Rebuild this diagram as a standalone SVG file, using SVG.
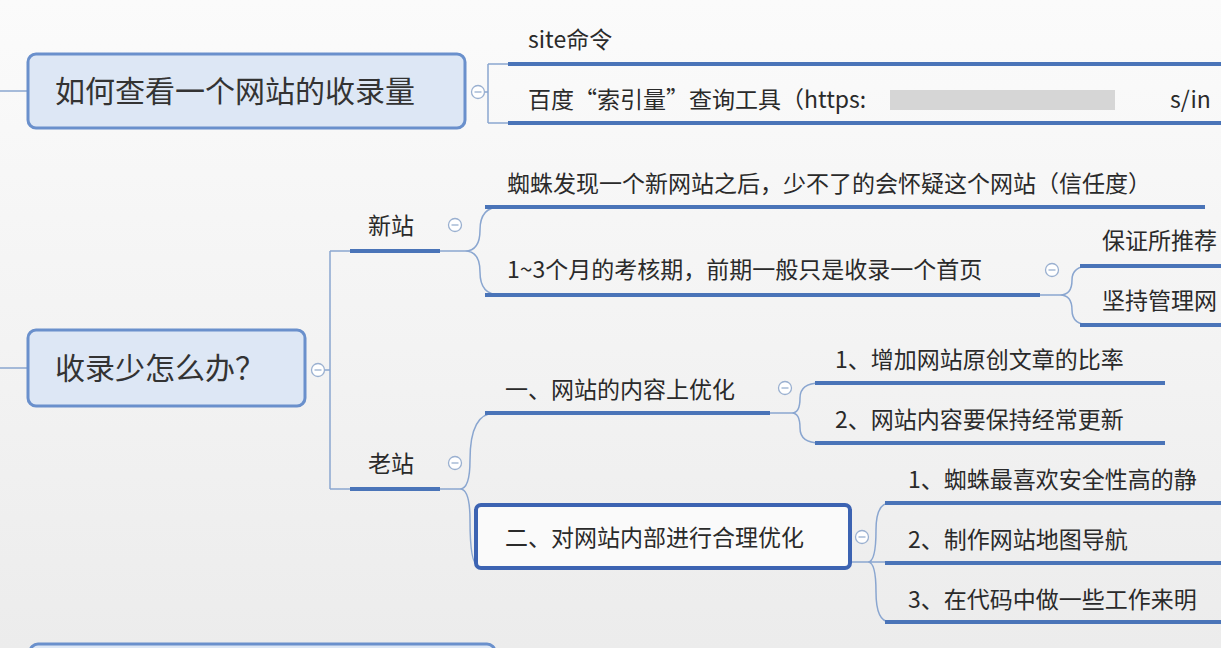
<svg xmlns="http://www.w3.org/2000/svg" width="1221" height="648" viewBox="0 0 1221 648">
<style>
text{font-family:"Noto Sans CJK SC","Liberation Sans",sans-serif;fill:#2a2a2a;font-size:23px}
.root{font-size:30px;fill:#333}
.ul{stroke:#4a74b8;stroke-width:4;fill:none}
.ln{stroke:#8aa6d0;stroke-width:1.5;fill:none}
.rb{fill:#dde7f5;stroke:#6a90cc;stroke-width:3}
.cc{fill:#fff;stroke:#9ab0d0;stroke-width:1.3}
.cm{stroke:#9ab0d0;stroke-width:1.3}
</style>
<defs>
<linearGradient id="bg" x1="0" y1="0" x2="0" y2="1"><stop offset="0" stop-color="#fbfbfb"/><stop offset="1" stop-color="#ececec"/></linearGradient>
<g id="col"><circle class="cc" r="6.5"/><line class="cm" x1="-3.5" y1="0" x2="3.5" y2="0"/></g>
</defs>
<rect width="1221" height="648" fill="url(#bg)"/>
<g id="connectors">
<path class="ln" d="M0 91H28M0 368H28"/>
<path class="ln" d="M485 92H488M488 64V123M488 64H508M488 123H508"/>
<path class="ln" d="M324 370H330M330 251V489M330 251H350M330 489H350"/>
<path class="ln" d="M440 251H465Q480 251 480 230Q480 207 500 207M465 251Q480 251 480 272Q480 295 500 295"/>
<path class="ln" d="M1040 295H1060Q1072 295 1072 280Q1072 266 1090 266M1060 295Q1072 295 1072 310Q1072 325 1090 325"/>
<path class="ln" d="M440 489H460Q470 489 470 460Q470 413 495 413M460 489Q470 489 470 520Q470 565 478 565"/>
<path class="ln" d="M770 413H792Q800 413 800 398Q800 383 820 383M792 413Q800 413 800 428Q800 443 820 443"/>
<path class="ln" d="M850 562H868Q876 562 876 530Q876 503 890 503M868 562Q876 562 876 592Q876 622 890 622M868 562H890"/>
<path class="ul" d="M508 64H1221M508 123H1221M350 251H440M350 489H440M485 207H1205M485 295H1040M1080 266H1221M1080 325H1221M485 413H770M815 383H1165M815 443H1165M885 503H1221M885 563H1221M885 622H1221"/>
</g>
<g id="n1"><rect class="rb" x="28" y="54" width="437" height="74" rx="8"/><text class="root" x="55" y="102">如何查看一个网站的收录量</text><use href="#col" x="478" y="92"/></g>
<g id="n1a"><text x="528" y="48">site命令</text></g>
<g id="n1b"><text x="528" y="108">百度“索引量”查询工具（https:</text><rect x="890" y="90" width="225" height="20" fill="#c8c8c8" opacity="0.7"/><text x="1170" y="108">s/in</text></g>
<g id="n2"><rect class="rb" x="28" y="330" width="277" height="76" rx="8"/><text class="root" x="55" y="379">收录少怎么办？</text><use href="#col" x="318" y="370"/></g>
<g id="n3"><text x="368" y="234">新站</text><use href="#col" x="455" y="225"/></g>
<g id="n4"><text x="507" y="192">蜘蛛发现一个新网站之后，少不了的会怀疑这个网站（信任度）</text></g>
<g id="n5"><text x="507" y="278">1~3个月的考核期，前期一般只是收录一个首页</text><use href="#col" x="1052" y="270"/></g>
<g id="n6"><text x="1102" y="249">保证所推荐</text></g>
<g id="n7"><text x="1102" y="309">坚持管理网</text></g>
<g id="n8"><text x="368" y="472">老站</text><use href="#col" x="455" y="463"/></g>
<g id="n9"><text x="505" y="398">一、网站的内容上优化</text><use href="#col" x="785" y="388"/></g>
<g id="n10"><text x="835" y="368">1、增加网站原创文章的比率</text></g>
<g id="n11"><text x="835" y="428">2、网站内容要保持经常更新</text></g>
<g id="n12"><rect x="476" y="505" width="374" height="63" rx="5" fill="#fafafa" stroke="#3c63b2" stroke-width="4"/><text x="505" y="546">二、对网站内部进行合理优化</text><use href="#col" x="862" y="537"/></g>
<g id="n13"><text x="908" y="488">1、蜘蛛最喜欢安全性高的静</text></g>
<g id="n14"><text x="908" y="548">2、制作网站地图导航</text></g>
<g id="n15"><text x="908" y="608">3、在代码中做一些工作来明</text></g>
<g id="n16"><rect class="rb" x="30" y="644" width="465" height="40" rx="8"/></g>
</svg>
